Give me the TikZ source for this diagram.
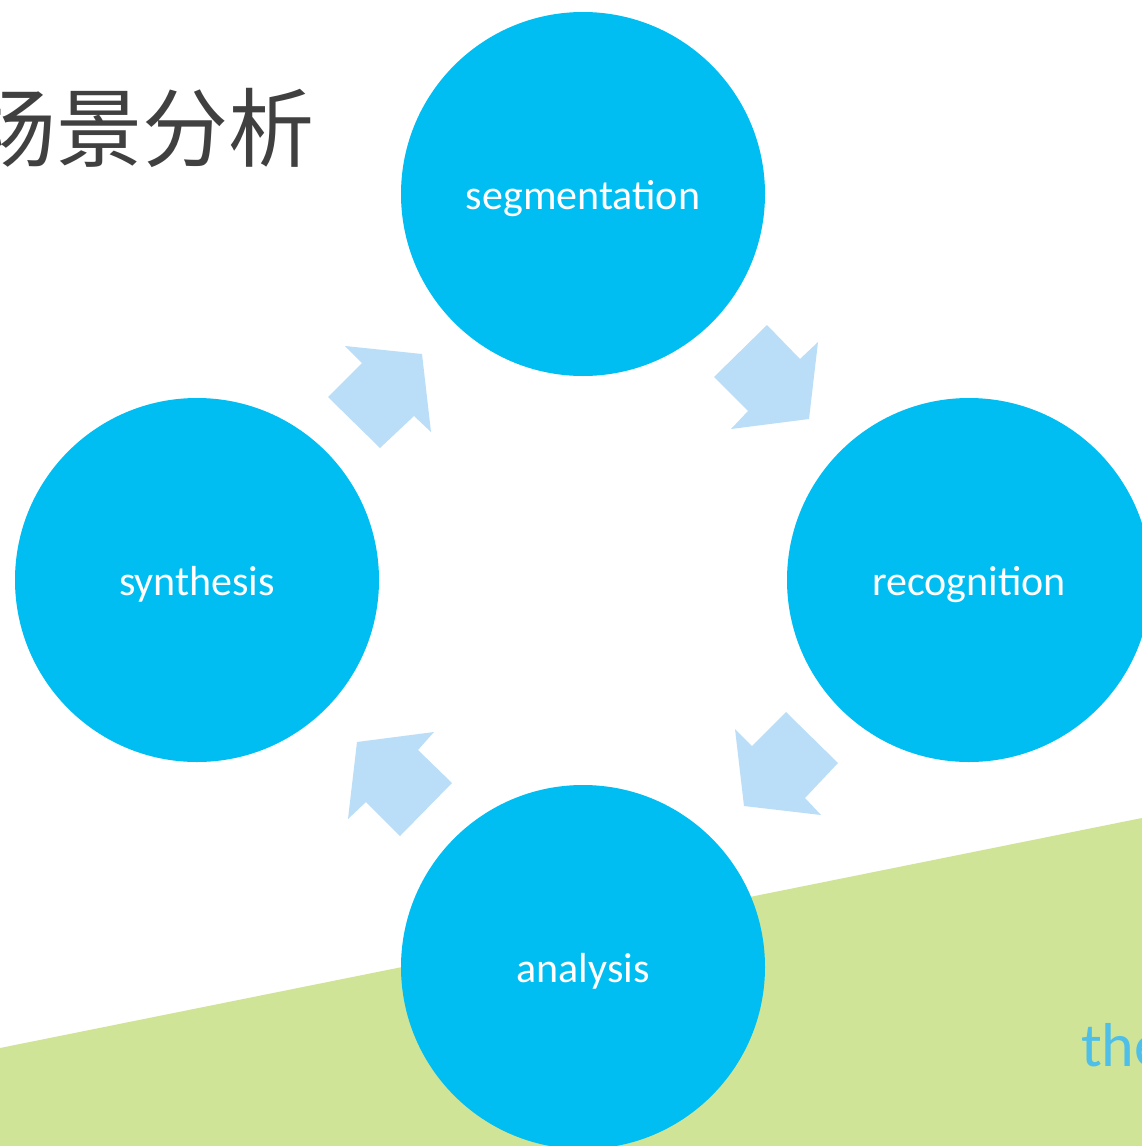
\documentclass[tikz,border=0pt]{standalone}
\usepackage{fontspec}
\setmainfont{Carlito}
\newfontfamily\cjk{Noto Sans CJK SC}
\definecolor{circblue}{RGB}{0,190,242}
\definecolor{arrowblue}{RGB}{187,222,248}
\definecolor{grass}{RGB}{208,228,152}
\definecolor{titlegrey}{RGB}{64,64,64}
\definecolor{thetext}{RGB}{77,191,232}
\tikzset{
  stage/.style={circle, fill=circblue, minimum size=364pt, inner sep=0pt,
    text=white, font=\fontsize{42}{50}\selectfont, text height=31pt, text depth=0pt},
  blockarrow/.style={fill=arrowblue, draw=none},
}
\begin{document}
\begin{tikzpicture}[x=1pt,y=-1pt]
\useasboundingbox (0,0) rectangle (1142,1146);
\clip (0,0) rectangle (1142,1146);
\fill[white] (0,0) rectangle (1142,1146);
% green band
\fill[grass] (0,1048) -- (1142,818) -- (1142,1146) -- (0,1146) -- cycle;
% block arrows
\fill[blockarrow] (345,346) -- (422,354) -- (431,432) -- (414,416) -- (380,448) -- (328,397) -- (362,363) -- cycle;
\fill[blockarrow] (818,342) -- (809,419) -- (731,429) -- (748,411) -- (714,377) -- (767,325) -- (800,359) -- cycle;
\fill[blockarrow] (821,815) -- (744,806) -- (735,729) -- (752,746) -- (786,712) -- (838,763) -- (805,798) -- cycle;
\fill[blockarrow] (348,819) -- (357,742) -- (434,732) -- (418,750) -- (452,783) -- (400,836) -- (366,802) -- cycle;
% stages
\node[stage] (seg) at (583,194) {segmentation};
\node[stage] (rec) at (969,580) {recognition};
\node[stage] (ana) at (583,967) {analysis};
\node[stage] (syn) at (197,580) {synthesis};
% title
\node[anchor=west, inner sep=0pt, text=titlegrey, font=\cjk\fontsize{86}{92}\selectfont] (title) at (-30,128) {场景分析};
% partial text bottom right
\node[anchor=base west, inner sep=0pt, text=thetext, font=\fontsize{62}{70}\selectfont] (the) at (1081,1066) {the};
\end{tikzpicture}
\end{document}
